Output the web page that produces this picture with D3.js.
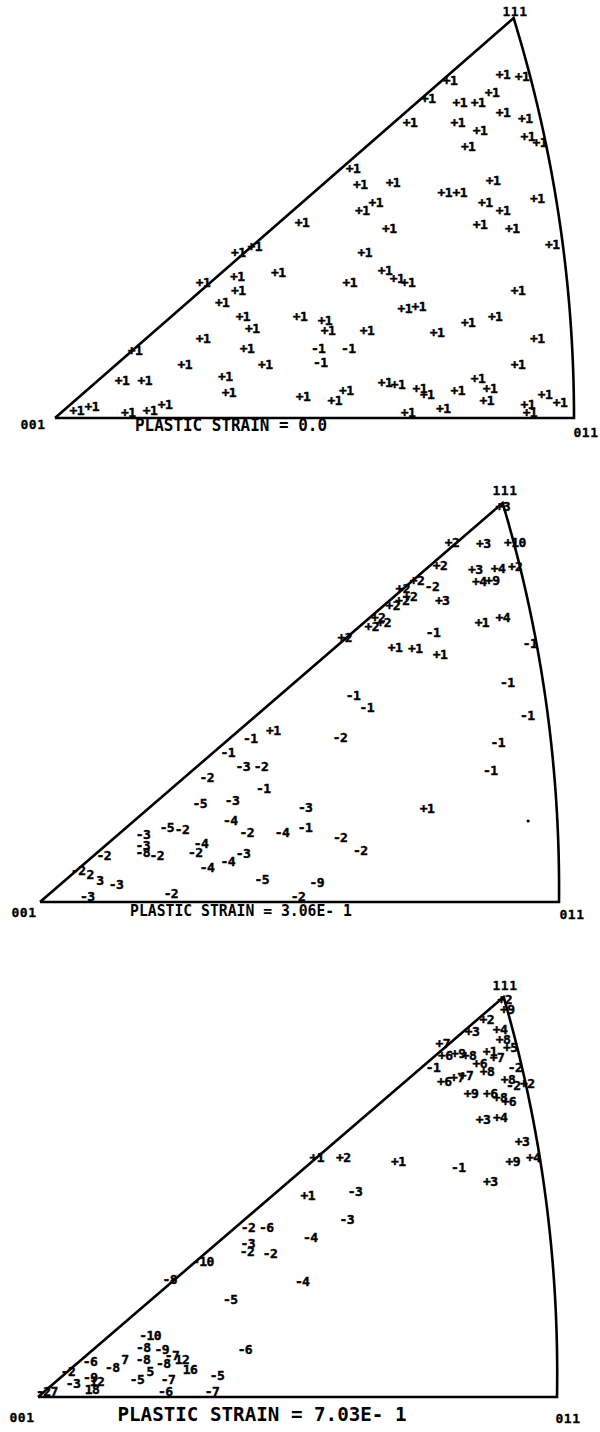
<!DOCTYPE html>
<html><head><meta charset="utf-8">
<script src="https://cdn.jsdelivr.net/npm/d3@7"></script>
<style>body{margin:0;background:#fff}</style>
</head><body>
<svg id="c" width="600" height="1432"></svg>
<script>
// Corner poles and panel titles
const cornerLabels = ["001", "011", "111"];
const strainTitles = ["PLASTIC STRAIN = 0.0", "PLASTIC STRAIN = 3.06E- 1", "PLASTIC STRAIN = 7.03E- 1"];

// Orientations: [label, u, v]; u = % of 001->011 edge, v = % of 111 height (stereographic triangle)
const pointsStrain0 = [
["+1",76.1,84.5],["+1",86.3,85.8],["+1",90.0,85.3],["+1",71.9,80.0],["+1",78.0,79.0],["+1",81.5,79.0],["+1",84.2,81.3],["+1",86.3,76.3],["+1",90.6,75.0],["+1",68.4,74.0],["+1",77.6,74.0],["+1",81.9,72.0],["+1",91.1,70.5],["+1",93.4,68.8],["+1",79.6,67.8],["+1",57.4,62.5],["+1",58.8,58.3],["+1",65.1,59.0],["+1",84.4,59.5],["+1",75.1,56.3],["+1",78.0,56.3],["+1",82.9,53.8],["+1",86.3,52.0],["+1",92.9,55.0],["+1",59.2,51.8],["+1",61.8,53.8],["+1",81.9,48.3],["+1",88.1,47.5],["+1",64.4,47.3],["+1",47.6,49.0],
["+1",95.8,43.3],["+1",59.7,41.5],["+1",63.6,37.0],["+1",65.9,35.0],["+1",68.0,33.8],["+1",56.8,34.0],["+1",89.2,32.0],["+1",67.4,27.5],["+1",70.1,27.8],["+1",84.8,25.3],["+1",79.6,23.8],["+1",52.0,24.3],["+1",52.6,21.8],["+1",60.1,22.0],["+1",73.6,21.3],["+1",92.9,20.0],["-1",50.7,17.5],["-1",51.1,14.0],["-1",56.5,17.5],["+1",89.2,13.3],["+1",63.6,9.0],["+1",66.1,8.3],["+1",53.9,4.5],["+1",56.1,7.0],["+1",47.8,5.3],["+1",70.3,7.3],["+1",71.7,5.8],["+1",77.6,7.0],["+1",81.5,9.8],["+1",83.8,7.5],["+1",83.2,4.5],["+1",74.8,2.5],["+1",68.0,1.3],["+1",94.4,5.8],["+1",97.3,4.0],["+1",91.1,3.5],["+1",91.5,1.5],
["+1",35.3,41.5],["+1",38.5,43.0],["+1",43.0,36.3],["+1",28.5,33.8],["+1",35.1,35.3],["+1",35.3,32.0],["+1",32.2,28.8],["+1",36.2,25.3],["+1",38.0,22.5],["+1",28.5,20.0],["+1",37.0,17.5],["+1",15.4,17.0],["+1",25.0,13.3],["+1",40.5,13.3],["+1",12.9,9.5],["+1",17.3,9.5],["+1",32.8,10.3],["+1",33.5,6.5],["+1",7.1,2.8],["+1",4.2,2.0],["+1",14.1,1.5],["+1",18.3,2.0],["+1",21.2,3.5],["+1",47.2,25.3]
];
const pointsStrain306 = [
["+3",88.4,99.2],["+2",78.7,90.2],["+3",84.7,90.0],["+10",90.8,90.2],["+2",76.4,84.5],["+3",83.2,83.4],["+4",87.6,83.7],["+2",90.9,84.2],["+4",84.0,80.4],["+9",86.5,80.7],["+2",72.0,80.7],["-2",74.9,79.2],["+2",69.3,78.7],["+2",70.7,76.7],["+3",76.9,75.7],["+2",67.4,74.4],["+2",69.2,75.7],["+2",64.6,71.4],["+2",63.4,69.2],["+2",65.7,70.2],["+1",84.6,70.2],["+4",88.6,71.4],["-1",75.2,67.7],["+2",58.2,66.4],["+1",67.9,63.9],["+1",71.8,63.7],["+1",76.6,62.1],["-1",93.9,64.9],["-1",89.6,55.1],["-1",59.9,51.9],["-1",62.6,48.9],["-1",93.5,46.9],["-2",57.5,41.3],["-1",87.9,40.1],["-1",86.5,33.1],["+1",74.4,23.6],["-3",50.9,23.8],["-1",50.9,18.8],["-2",57.7,16.3],["-2",61.6,13.0],["-9",53.3,5.0],["-2",49.7,1.3],
["+1",44.6,43.1],["-1",40.2,41.1],["-1",35.9,37.6],["-3",38.8,34.1],["-2",42.3,34.1],["-2",31.9,31.3],["-1",42.8,28.6],["-5",30.6,24.8],["-3",36.8,25.6],["-5",24.3,18.8],["-2",27.2,18.3],["-4",36.5,20.5],["-2",39.7,17.5],["-4",46.5,17.5],["-3",19.7,17.0],["-3",19.7,14.3],["-4",30.9,14.8],["-2",29.8,12.5],["-2",12.2,11.8],["-8",19.7,12.5],["-2",22.4,11.8],["-3",39.0,12.3],["-4",36.1,10.3],["-4",32.1,8.8],["-2",7.3,8.0],["2",9.6,7.0],["3",11.5,5.5],["-3",14.6,4.5],["-5",42.7,5.8],["-3",9.1,1.3],["-2",25.2,2.3]
];
const dotsStrain306 = [[93.9,20.3]];
const pointsStrain703 = [
["+2",88.6,99.3],["+9",89.1,96.8],["+2",85.2,94.3],["+3",82.4,91.3],["+4",87.8,91.8],["+8",88.4,89.3],["+5",89.8,87.3],["+7",76.8,88.5],["+6",77.3,85.5],["+9",79.8,86.0],["+8",81.9,85.5],["+1",85.9,86.3],["+7",87.3,84.8],["-2",90.8,82.5],["+6",84.0,83.5],["+8",85.4,81.3],["-1",75.0,82.3],["+8",89.5,79.5],["+6",77.2,78.8],["+7",79.7,79.8],["+7",81.4,80.3],["+9",82.4,76.0],["+6",86.1,76.0],["+8",88.0,75.0],["+6",89.7,74.0],["-2",90.5,78.0],["+2",93.2,78.5],["+3",84.8,69.3],["+4",88.1,69.8],["+3",92.4,63.8],["+9",90.7,58.8],["+4",94.6,60.0],["+1",52.9,60.0],["+2",58.0,60.0],["+1",68.6,58.8],["-1",80.2,57.3],["+3",86.4,53.8],["+1",51.3,50.5],["-3",60.4,51.3],["-3",58.9,44.3],["-4",51.9,40.0],["-4",50.5,28.8],
["-2",39.9,42.5],["-6",43.4,42.3],["-3",39.9,38.5],["-2",39.8,36.3],["-2",44.2,36.0],["-10",31.3,33.8],["-8",25.0,29.3],["-5",36.7,24.3],["-10",21.4,15.5],["-8",20.1,12.3],["-9",23.7,11.8],["-6",39.7,11.8],["-7",25.7,10.3],["-8",20.1,9.3],["-8",24.0,8.5],["12",27.6,9.3],["16",29.2,7.0],["-8",14.2,7.5],["7",16.6,9.3],["-6",9.9,8.8],["-5",34.4,5.5],["-5",19.0,4.3],["-7",25.0,4.3],["5",21.5,6.3],["-2",5.7,6.3],["-9",10.0,5.0],["12",11.3,3.8],["-3",6.7,3.3],["18",10.4,1.8],["-27",1.7,1.5],["-6",24.5,1.3],["-7",33.5,1.3]
];

// ---- layout (pixel placement of each panel) ----
const panels = [
  {pts: pointsStrain0, dots: [], x0: 55, x1: 574, yb: 418, ya: 18, shear: 0,
   title: strainTitles[0], tx: 231, ty: 425, tw: 192, ts: 17,
   c001: [33, 424], c011: [586, 432], c111: [515, 11]},
  {pts: pointsStrain306, dots: dotsStrain306, x0: 40, x1: 559, yb: 902, ya: 503, shear: 4,
   title: strainTitles[1], tx: 241, ty: 910, tw: 222, ts: 16,
   c001: [24, 912], c011: [572, 914], c111: [505, 490]},
  {pts: pointsStrain703, dots: [], x0: 38, x1: 557, yb: 1397, ya: 997, shear: 7,
   title: strainTitles[2], tx: 262, ty: 1414, tw: 289, ts: 20,
   c001: [22, 1417], c011: [568, 1418], c111: [505, 985]}
];

const TAN = Math.tan(Math.PI / 8);           // stereographic radius of 011
const H111 = 1 / (Math.sqrt(3) + 1);          // stereographic coordinate of 111
// 001 -> 011 -> great-circle arc -> 111 -> 001
const outline = [[0, 0]].concat(
  d3.range(0, 1.00001, 0.02).map(t => {
    const n = Math.sqrt(t * t + 2);
    return [100 * (1 / (n + 1)) / TAN, 100 * (t / (n + 1)) / H111];
  })).concat([[0, 0]]);

const svg = d3.select("#c");
const font = "'DejaVu Sans Mono', monospace";

panels.forEach(p => {
  const sx = d3.scaleLinear().domain([0, 100]).range([p.x0, p.x1]);
  const sy = d3.scaleLinear().domain([0, 100]).range([p.yb, p.ya]);
  const X = (u, v) => sx(u) + p.shear * v / 100;
  const g = svg.append("g");

  g.append("path")
    .attr("d", d3.line().x(d => X(d[0], d[1])).y(d => sy(d[1]))(outline))
    .attr("fill", "none").attr("stroke", "#000").attr("stroke-width", 2.6)
    .attr("stroke-linejoin", "miter");

  g.selectAll("text.pt").data(p.pts).join("text")
    .attr("class", "pt")
    .attr("x", d => X(d[1], d[2])).attr("y", d => sy(d[2]))
    .attr("dy", "0.36em").attr("text-anchor", "middle")
    .attr("font-family", font).attr("font-weight", "bold").attr("font-size", 13)
    .attr("letter-spacing", -0.6)
    .attr("fill", "#000").attr("stroke", "#000").attr("stroke-width", 0.45)
    .text(d => d[0]);

  g.selectAll("circle.dot").data(p.dots).join("circle")
    .attr("class", "dot")
    .attr("cx", d => X(d[0], d[1])).attr("cy", d => sy(d[1])).attr("r", 1.6).attr("fill", "#000");

  const corner = (pos, txt) => g.append("text")
    .attr("x", pos[0]).attr("y", pos[1]).attr("dy", "0.36em").attr("text-anchor", "middle")
    .attr("font-family", font).attr("font-weight", "bold").attr("font-size", 13)
    .attr("letter-spacing", 0.5).attr("fill", "#000").attr("stroke", "#000").attr("stroke-width", 0.3)
    .text(txt);
  corner(p.c001, cornerLabels[0]);
  corner(p.c011, cornerLabels[1]);
  corner(p.c111, cornerLabels[2]);

  g.append("text")
    .attr("x", p.tx - p.tw / 2).attr("y", p.ty).attr("dy", "0.36em")
    .attr("textLength", p.tw).attr("lengthAdjust", "spacingAndGlyphs")
    .attr("font-family", font).attr("font-weight", "bold").attr("font-size", p.ts)
    .attr("fill", "#000").text(p.title);
});
</script>
</body></html>
